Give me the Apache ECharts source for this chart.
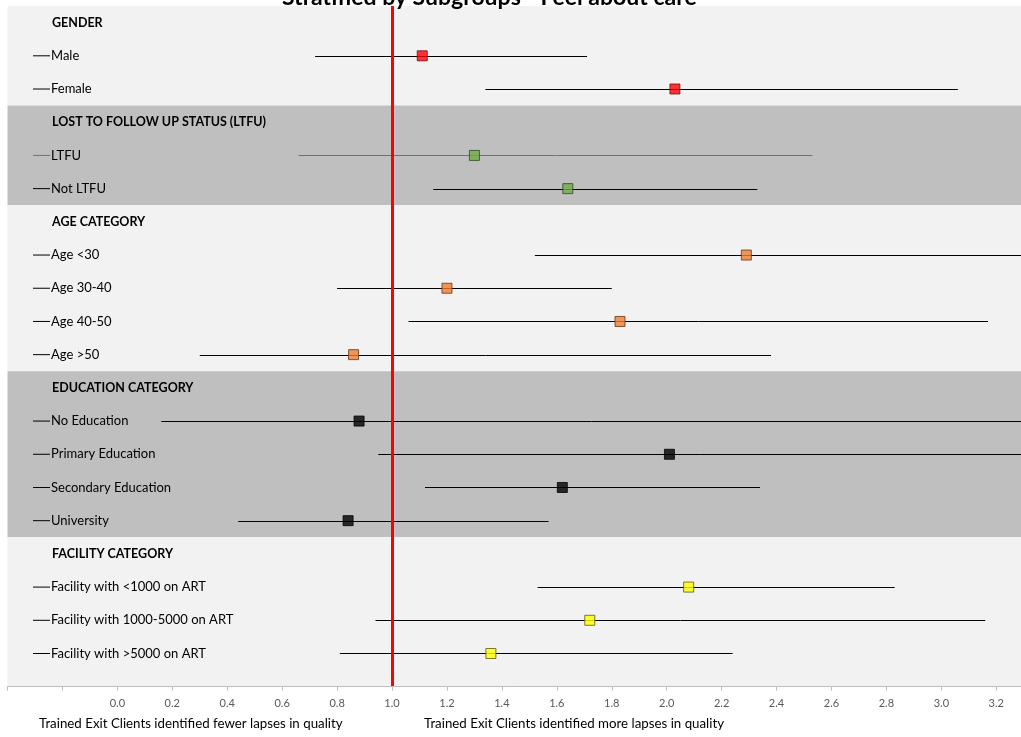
<!DOCTYPE html>
<html>
<head>
<meta charset="utf-8">
<title>Stratified by Subgroups - Feel about care</title>
<script src="https://cdn.jsdelivr.net/npm/echarts@6/dist/echarts.min.js"></script>
<style>
  html, body { margin: 0; padding: 0; background: #ffffff; }
  #chart { width: 1021px; height: 737px; }
</style>
</head>
<body>
<div id="chart"></div>
<script>
// Rows from top to bottom; section headers carry no estimate.
const rowLabels = [
  'GENDER', 'Male', 'Female',
  'LOST TO FOLLOW UP STATUS (LTFU)', 'LTFU', 'Not LTFU',
  'AGE CATEGORY', 'Age <30', 'Age 30-40', 'Age 40-50', 'Age >50',
  'EDUCATION CATEGORY', 'No Education', 'Primary Education', 'Secondary Education', 'University',
  'FACILITY CATEGORY', 'Facility with <1000 on ART', 'Facility with 1000-5000 on ART', 'Facility with >5000 on ART'
];
const isHeader = [
  true, false, false,
  true, false, false,
  true, false, false, false, false,
  true, false, false, false, false,
  true, false, false, false
];
// Point estimates and confidence limits
const estimates = [null, 1.11, 2.03, null, 1.30, 1.64, null, 2.29, 1.20, 1.83, 0.86, null, 0.88, 2.01, 1.62, 0.84, null, 2.08, 1.72, 1.36];
const lowerCI   = [null, 0.72, 1.34, null, 0.66, 1.15, null, 1.52, 0.80, 1.06, 0.30, null, 0.16, 0.95, 1.12, 0.44, null, 1.53, 0.94, 0.81];
const upperCI   = [null, 1.71, 3.06, null, 2.53, 2.33, null, 3.60, 1.80, 3.17, 2.38, null, 4.00, 4.30, 2.34, 1.57, null, 2.83, 3.16, 2.24];
const referenceValue = 1.0;

const footLeft  = 'Trained Exit Clients identified fewer lapses in quality';
const footRight = 'Trained Exit Clients identified more lapses in quality';

// Marker colours per section
const sectionFill   = ['#ff0000', '#70ad47', '#ed7d31', '#000000', '#ffff00'];
const sectionBorder = ['#6e0f0f', '#2f4a1f', '#6a3412', '#000000', '#5e5a00'];
const bandLight = '#f2f2f2';
const bandDark  = '#bfbfbf';
const FONT = 'Lato, "Open Sans", sans-serif';

// Row i sits at y = i + 0.5 on the vertical value axis
const ciData = [];
const estData = [];
const bandData = [];
let section = -1;
let sectionStart = 0;
rowLabels.forEach(function (name, i) {
  if (isHeader[i]) {
    if (section >= 0) bandData.push([sectionStart, i, section]);
    section += 1;
    sectionStart = i;
    return;
  }
  ciData.push({ value: [lowerCI[i], upperCI[i], i + 0.5], name: name });
  estData.push({
    value: [estimates[i], i + 0.5],
    name: name,
    itemStyle: { color: sectionFill[section], borderColor: sectionBorder[section], borderWidth: 1 }
  });
});
bandData.push([sectionStart, 20.5, section]);

const markAreaData = bandData.map(function (b) {
  return [
    { yAxis: b[0], itemStyle: { color: b[2] % 2 === 0 ? bandLight : bandDark } },
    { yAxis: b[1] }
  ];
});

const chart = echarts.init(document.getElementById('chart'), null, { renderer: 'canvas' });

chart.setOption({
  animation: false,
  backgroundColor: '#ffffff',
  title: {
    text: 'Stratified by Subgroups - Feel about care',
    left: 277,
    top: -19,
    textStyle: { fontFamily: FONT, fontSize: 23, fontWeight: 'bold', color: '#000000' }
  },
  grid: { left: 7.5, right: 0, top: 6, bottom: 50.3, containLabel: false },
  xAxis: {
    type: 'value',
    min: -0.4,
    max: 3.29,
    interval: 0.2,
    z: 10,
    axisLine: { show: true, onZero: false, lineStyle: { color: '#bfbfbf', width: 1 } },
    axisTick: { show: true, length: 4, lineStyle: { color: '#bfbfbf' } },
    splitLine: { show: false },
    axisLabel: {
      showMaxLabel: false,
      margin: 11,
      color: '#595959',
      fontFamily: FONT,
      fontSize: 11,
      formatter: function (v) { return v < -0.01 ? '' : v.toFixed(1); }
    }
  },
  yAxis: {
    type: 'value',
    inverse: true,
    min: 0,
    max: 20.5,
    interval: 0.5,
    z: 10,
    axisLine: { show: false, onZero: false },
    axisTick: { show: false },
    splitLine: { show: false },
    axisLabel: {
      inside: true,
      margin: 25.5,
      showMaxLabel: false,
      formatter: function (v) {
        const idx = Math.floor(v);
        if (Math.abs(v - idx - 0.5) > 0.01 || idx >= rowLabels.length) return '';
        if (isHeader[idx]) return '{sp| }{h|' + rowLabels[idx] + '}';
        const dash = rowLabels[idx] === 'LTFU' ? 'do' : 'd';
        return '{' + dash + '| }{n|' + rowLabels[idx] + '}';
      },
      rich: {
        sp: { width: 18 },
        d: { width: 17, height: 1, backgroundColor: '#000000', verticalAlign: 'middle' },
        do: { width: 17, height: 1, backgroundColor: '#76764e', verticalAlign: 'middle' },
        n: { fontFamily: FONT, fontSize: 13, color: '#000000', padding: [0, 0, 0, 1] },
        h: { fontFamily: FONT, fontSize: 12.5, fontWeight: 'bold', color: '#000000', padding: [0, 0, 0, 1] }
      }
    }
  },
  graphic: [
    { type: 'text', left: 39, top: 717, z: 10, style: { text: footLeft, font: '13.3px ' + FONT, fill: '#000000' } },
    { type: 'text', left: 424, top: 717, z: 10, style: { text: footRight, font: '13.3px ' + FONT, fill: '#000000' } }
  ],
  series: [
    {
      name: 'sections',
      type: 'scatter',
      data: [],
      z: 1,
      silent: true,
      markArea: { silent: true, data: markAreaData }
    },
    {
      name: 'confidence interval',
      type: 'custom',
      z: 2,
      clip: true,
      data: ciData,
      renderItem: function (params, api) {
        const a = api.coord([api.value(0), api.value(2)]);
        const b = api.coord([api.value(1), api.value(2)]);
        const y = Math.round(a[1]) + 0.5;
        const name = ciData[params.dataIndex].name;
        return {
          type: 'line',
          shape: { x1: a[0], y1: y, x2: b[0], y2: y },
          style: { stroke: name === 'LTFU' ? '#76764e' : '#000000', lineWidth: 1 }
        };
      }
    },
    {
      name: 'reference',
      type: 'scatter',
      data: [],
      z: 3,
      markLine: {
        silent: true,
        symbol: ['none', 'none'],
        label: { show: false },
        lineStyle: { color: '#ff0000', width: 3, type: 'solid' },
        data: [{ xAxis: referenceValue }]
      }
    },
    {
      name: 'estimate',
      type: 'scatter',
      z: 4,
      symbol: 'rect',
      symbolSize: 10,
      data: estData
    }
  ]
});
</script>
</body>
</html>
